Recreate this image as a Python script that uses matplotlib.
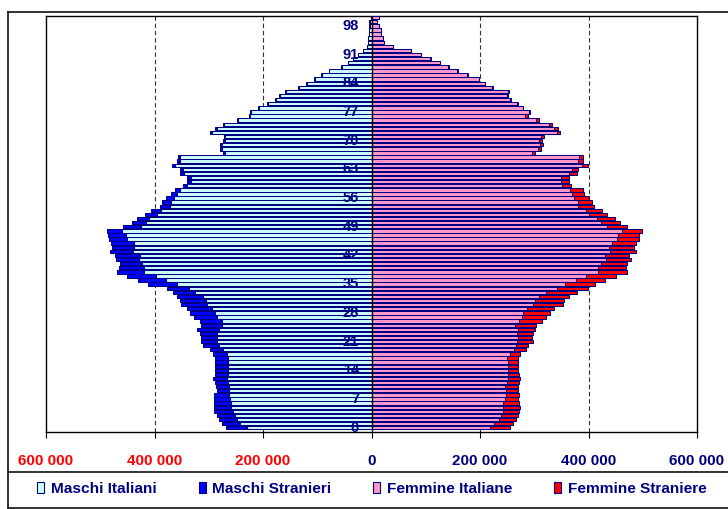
import matplotlib
matplotlib.use("Agg")
import matplotlib.pyplot as plt
from matplotlib.lines import Line2D
from matplotlib.patches import Patch
import numpy as np

# age classes 0..100, population counts
ages = list(range(0, 101))

maschi_italiani = [
    230000, 242200, 247100, 251400, 255600, 259300, 259300, 260500, 261800, 261800,
    261800, 263600, 266700, 263600, 263600, 263600, 263600, 263600, 266700, 274000,
    282000, 285000, 285000, 285000, 282000, 275800, 275800, 285000, 288100, 294200,
    303400, 304600, 310700, 324800, 336000, 358400, 378000, 398100, 419600, 419600,
    422600, 428700, 426900, 439100, 437900, 437900, 451400, 453200, 459300, 425700,
    416500, 410800, 395100, 387700, 370700, 369400, 364500, 358400, 352300, 340100,
    332700, 333000, 346300, 347500, 361500, 353400, 353200, 270000, 275400, 275400,
    270500, 269800, 294200, 285600, 271500, 246300, 223100, 221800, 206600, 191300,
    176500, 168500, 158100, 133700, 119600, 104900, 91600, 77500, 54900, 42600,
    33400, 24800, 15600, 7700, 6400, 6400, 4600, 4600, 3400, 3400,
    1500,
]
maschi_stranieri = [
    37900, 33600, 33600, 33600, 34300, 31800, 31800, 29400, 28100, 23200,
    24400, 24500, 26300, 24500, 24500, 24500, 24500, 24500, 25600, 24500,
    28700, 29400, 29400, 30600, 39700, 38600, 41000, 42800, 45800, 45800,
    47700, 47700, 47700, 40900, 40700, 53800, 52600, 53300, 48900, 45800,
    41600, 42800, 46500, 42800, 39800, 41600, 32400, 31800, 28700, 31800,
    24500, 21000, 22600, 19600, 18300, 16500, 13500, 11000, 9200, 7300,
    7300, 7000, 6000, 6000, 5500, 5000, 4000, 4000, 3500, 3500,
    3500, 3000, 3000, 2500, 2500, 2000, 2000, 2000, 2000, 2000,
    1500, 1500, 1500, 1500, 1500, 1500, 800, 800, 800, 800,
    800, 300, 300, 300, 300, 300, 300, 300, 300, 300,
    300,
]
femmine_italiane = [
    218700, 226700, 235900, 239000, 243300, 243300, 243300, 247000, 248200, 248200,
    247000, 250100, 252500, 251300, 251300, 251300, 251300, 250100, 255600, 261800,
    266000, 267900, 269700, 267900, 269700, 265400, 272000, 277300, 278500, 285900,
    296900, 301800, 308000, 321500, 341700, 357100, 376700, 396300, 418400, 418400,
    422700, 431900, 429500, 439300, 438000, 442900, 453400, 455200, 462600, 435000,
    422700, 415300, 401200, 395100, 379800, 379800, 373600, 368700, 366300, 350900,
    349100, 349100, 364400, 369300, 387700, 379800, 381600, 295700, 306100, 310400,
    309200, 312300, 341700, 336800, 327600, 303100, 283400, 289600, 278500, 267500,
    255800, 249700, 252100, 222300, 208800, 197500, 176500, 158300, 141800, 126000,
    108300, 91200, 72800, 40300, 23700, 20700, 18200, 17600, 13300, 9600,
    13300,
]
femmine_straniere = [
    35700, 33800, 30800, 30700, 29500, 30700, 29500, 22700, 23400, 21500,
    22700, 21500, 21500, 20300, 18400, 18400, 18400, 19600, 18400, 22100,
    23000, 29500, 26300, 29500, 32600, 38100, 43000, 44200, 50900, 50900,
    55200, 53400, 56400, 56400, 56500, 55200, 54000, 54000, 52200, 50300,
    49100, 47200, 45300, 47800, 46100, 44200, 39900, 38100, 36800, 36800,
    35000, 33800, 33800, 30700, 30600, 26300, 26400, 22100, 22700, 16600,
    15300, 15300, 13500, 10500, 11700, 9200, 7400, 6100, 6200, 4900,
    4900, 6100, 5500, 6100, 4900, 4900, 4300, 2400, 1200, 1800,
    1200, 1200, 1900, 1000, 1000, 1000, 500, 500, 500, 500,
    500, 200, 200, 200, 200, 200, 200, 200, 200, 200,
    200,
]

labels = ["Maschi Italiani", "Maschi Stranieri", "Femmine Italiane", "Femmine Straniere"]
colors = ["#CCFFFF", "#0000FF", "#FF99CC", "#FF0000"]
EDGE = "#000080"
NAVY = "#000080"
W, H = 728, 509

plt.rcParams["font.family"] = ["Liberation Sans", "DejaVu Sans"]
plt.rcParams["font.weight"] = "bold"

fig = plt.figure(figsize=(W / 100, H / 100), dpi=100)
ax = fig.add_axes([46 / W, 1 - 432 / H, (697 - 46) / W, (432 - 15.6) / H])

y = np.array(ages)
mi = np.array(maschi_italiani)
ms = np.array(maschi_stranieri)
fi = np.array(femmine_italiane)
fs = np.array(femmine_straniere)

bh = 0.82
kw = dict(height=bh, edgecolor=EDGE, linewidth=0.75, zorder=3)
ax.barh(y, -mi, color=colors[0], **kw)
ax.barh(y, -ms, left=-mi, color=colors[1], **kw)
ax.barh(y, fi, color=colors[2], **kw)
ax.barh(y, fs, left=fi, color=colors[3], **kw)

ax.set_xlim(-600000, 600000)
ax.set_ylim(-1.05, 100.5)

# dashed vertical gridlines
for gx in (-400000, -200000, 200000, 400000):
    ax.axvline(gx, color="#333333", linestyle=(0, (4, 2.5)), linewidth=0.8, zorder=1)

# central category axis with small ticks
ax.axvline(0, color="black", linewidth=1.0, zorder=4)
ax.hlines(y[:-1] + 0.5, -5500, 0, color="black", linewidth=0.6, zorder=4)

# age labels every 7 years
for a in ages[::7]:
    ax.annotate(str(a), xy=(0, a), xytext=(-9, 0), textcoords="offset points",
                ha="right", va="center", fontsize=10.5, fontweight="bold",
                color=NAVY, zorder=5)

ax.set_yticks([])
xt = np.arange(-600000, 600001, 200000)
ax.set_xticks(xt)
ax.set_xticklabels([f"{abs(v):,}".replace(",", " ") for v in xt])
for lab, v in zip(ax.get_xticklabels(), xt):
    lab.set_color("#FF0000" if v < 0 else NAVY)
    lab.set_fontweight("bold")
ax.tick_params(axis="x", length=4, width=0.8, pad=12, labelsize=11, direction="out")
for s in ax.spines.values():
    s.set_linewidth(1.0)
    s.set_color("black")

# outer chart frame and legend separator
fy_top = 1 - 12 / H
fy_bot = 1 - 508 / H
fx_l = 8 / W
fy_sep = 1 - 472 / H
for xs, ys in [([fx_l, 1.01], [fy_top, fy_top]),
               ([fx_l, 1.01], [fy_bot, fy_bot]),
               ([fx_l, fx_l], [fy_bot, fy_top]),
               ([fx_l, 1.01], [fy_sep, fy_sep])]:
    fig.add_artist(Line2D(xs, ys, color="#222222", linewidth=1.3))

handles = [Patch(facecolor=c, edgecolor=EDGE, linewidth=0.8) for c in colors]
leg = fig.legend(handles, labels, loc="center", ncol=4,
                 bbox_to_anchor=(372 / W, 1 - 489 / H), frameon=False,
                 prop={"size": 11.1, "weight": "bold"},
                 handlelength=0.45, handleheight=0.75, handletextpad=0.45,
                 columnspacing=2.7, borderaxespad=0)
for t in leg.get_texts():
    t.set_color(NAVY)

fig.savefig("out.png", dpi=100)
